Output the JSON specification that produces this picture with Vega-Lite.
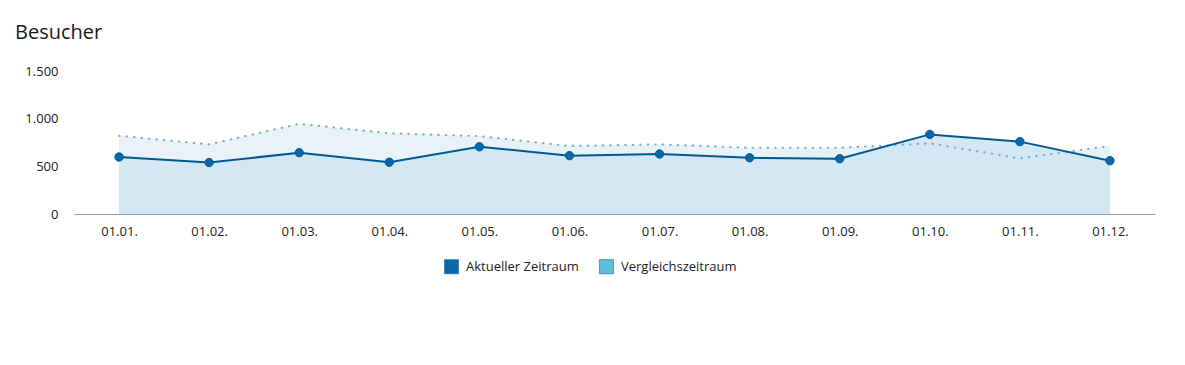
{
  "$schema": "https://vega.github.io/schema/vega-lite/v6.json",
  "autosize": {"type": "none"},
  "padding": {"left": 74, "top": 71, "right": 30, "bottom": 151},
  "width": 1081,
  "height": 143,
  "background": "white",
  "title": {"text": "Besucher", "anchor": "start", "frame": "group", "font": "Open Sans", "fontSize": 20, "fontWeight": "normal", "color": "#1a1a1a", "dx": -59, "offset": 22},
  "config": {"view": {"stroke": null}, "font": "Open Sans"},
  "data": {"values": [
    {"monat": "01.01.", "reihe": "Aktueller Zeitraum", "wert": 598},
    {"monat": "01.02.", "reihe": "Aktueller Zeitraum", "wert": 540},
    {"monat": "01.03.", "reihe": "Aktueller Zeitraum", "wert": 643},
    {"monat": "01.04.", "reihe": "Aktueller Zeitraum", "wert": 543},
    {"monat": "01.05.", "reihe": "Aktueller Zeitraum", "wert": 705},
    {"monat": "01.06.", "reihe": "Aktueller Zeitraum", "wert": 612},
    {"monat": "01.07.", "reihe": "Aktueller Zeitraum", "wert": 629},
    {"monat": "01.08.", "reihe": "Aktueller Zeitraum", "wert": 590},
    {"monat": "01.09.", "reihe": "Aktueller Zeitraum", "wert": 580},
    {"monat": "01.10.", "reihe": "Aktueller Zeitraum", "wert": 835},
    {"monat": "01.11.", "reihe": "Aktueller Zeitraum", "wert": 759},
    {"monat": "01.12.", "reihe": "Aktueller Zeitraum", "wert": 559},
    {"monat": "01.01.", "reihe": "Vergleichszeitraum", "wert": 821},
    {"monat": "01.02.", "reihe": "Vergleichszeitraum", "wert": 730},
    {"monat": "01.03.", "reihe": "Vergleichszeitraum", "wert": 946},
    {"monat": "01.04.", "reihe": "Vergleichszeitraum", "wert": 846},
    {"monat": "01.05.", "reihe": "Vergleichszeitraum", "wert": 817},
    {"monat": "01.06.", "reihe": "Vergleichszeitraum", "wert": 713},
    {"monat": "01.07.", "reihe": "Vergleichszeitraum", "wert": 730},
    {"monat": "01.08.", "reihe": "Vergleichszeitraum", "wert": 695},
    {"monat": "01.09.", "reihe": "Vergleichszeitraum", "wert": 695},
    {"monat": "01.10.", "reihe": "Vergleichszeitraum", "wert": 741},
    {"monat": "01.11.", "reihe": "Vergleichszeitraum", "wert": 584},
    {"monat": "01.12.", "reihe": "Vergleichszeitraum", "wert": 713}
  ]},
  "encoding": {
    "x": {"field": "monat", "type": "ordinal", "sort": null, "title": null,
      "axis": {"labelAngle": 0, "ticks": false, "domainColor": "#9a9a9a", "domainWidth": 1, "labelFontSize": 13, "labelColor": "#222", "labelPadding": 11, "labelFont": "Open Sans"}},
    "y": {"field": "wert", "type": "quantitative", "title": null,
      "scale": {"domain": [0, 1500], "nice": false},
      "axis": {"values": [0, 500, 1000, 1500], "grid": false, "domain": false, "ticks": false, "labelPadding": 16, "labelFontSize": 13, "labelColor": "#222", "labelFont": "Open Sans", "labelExpr": "replace(format(datum.value, ','), ',', '.')"}}
  },
  "layer": [
    {"transform": [{"filter": "datum.reihe === 'Vergleichszeitraum'"}],
     "mark": {"type": "area", "color": "#e7f3f8", "opacity": 1}},
    {"transform": [{"filter": "datum.reihe === 'Aktueller Zeitraum'"}],
     "mark": {"type": "area", "color": "#d4e8f3", "opacity": 1}},
    {"transform": [{"filter": "datum.reihe === 'Vergleichszeitraum'"}],
     "mark": {"type": "line", "color": "#7fb3c6", "strokeWidth": 2.2, "strokeDash": [0.5, 7], "strokeCap": "round"}},
    {"transform": [{"filter": "datum.reihe === 'Aktueller Zeitraum'"}],
     "mark": {"type": "line", "color": "#005a92", "strokeWidth": 2}},
    {"transform": [{"filter": "datum.reihe === 'Aktueller Zeitraum'"}],
     "mark": {"type": "point", "filled": true, "shape": "circle", "size": 70, "opacity": 1, "stroke": "#005a92", "strokeWidth": 1},
     "encoding": {"color": {"field": "reihe", "type": "nominal",
       "scale": {"domain": ["Aktueller Zeitraum", "Vergleichszeitraum"], "range": ["#0b67a8", "#5bbfdc"]},
       "legend": {"title": null, "orient": "none", "legendX": 370, "legendY": 188, "direction": "horizontal", "symbolType": "square", "symbolSize": 200, "symbolStrokeWidth": 0.5, "labelFontSize": 13, "labelColor": "#222", "labelFont": "Open Sans", "columnPadding": 19, "labelOffset": 7}}}}
  ]
}
